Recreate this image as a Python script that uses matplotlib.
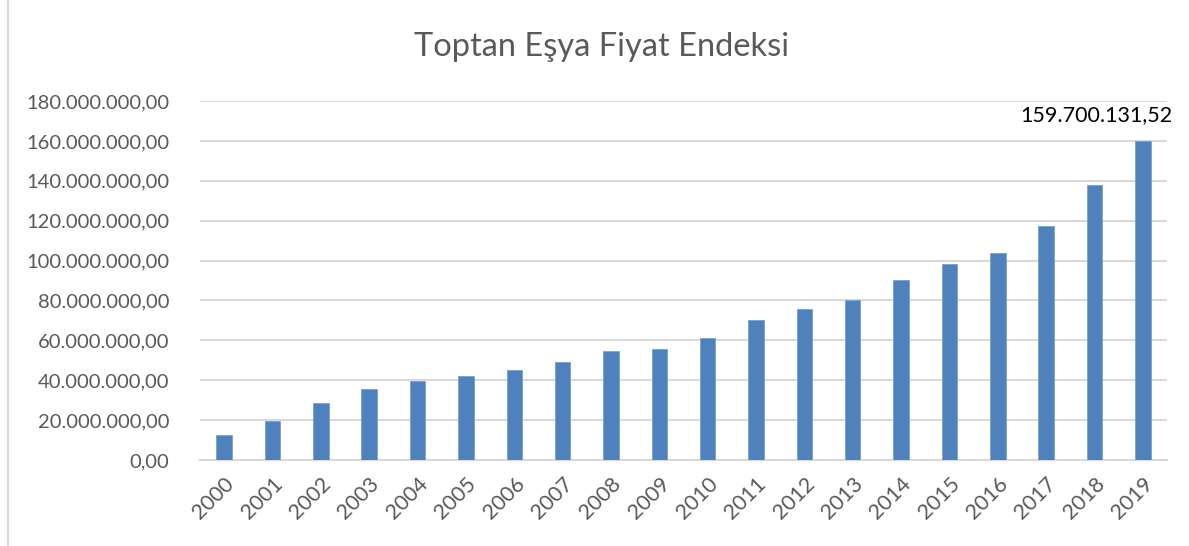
import matplotlib.pyplot as plt
from matplotlib.ticker import FuncFormatter

years = [str(y) for y in range(2000, 2020)]
# values (TL)
values = [
    12.3e6, 19.5e6, 28.8e6, 35.7e6, 39.7e6, 42.0e6, 45.3e6, 49.3e6,
    54.8e6, 55.7e6, 61.2e6, 70.0e6, 75.5e6, 80.2e6, 90.3e6, 98.1e6,
    103.8e6, 117.2e6, 137.9e6, 159700131.52,
]
last_label = "159.700.131,52"
title = "Toptan Eşya Fiyat Endeksi"

plt.rcParams["font.family"] = ["Lato", "DejaVu Sans"]

W, H = 1189, 546
fig = plt.figure(figsize=(W / 100, H / 100), dpi=100)
ax = fig.add_axes([200 / W, 1 - 460 / H, 967 / W, 359 / H])

x = range(len(years))
ax.bar(x, values, width=0.32, color="#4f81bd", edgecolor="#7aa0d0", linewidth=0.6, zorder=3)

ax.set_xlim(-0.5, len(years) - 0.5)
ax.set_ylim(0, 180e6)
ax.set_yticks(range(0, 180000001, 20000000))


def tr_fmt(v, pos):
    s = f"{v:,.2f}"
    return s.replace(",", "X").replace(".", ",").replace("X", ".")


ax.yaxis.set_major_formatter(FuncFormatter(tr_fmt))
ax.grid(axis="y", color="#d9d9d9", linewidth=1.5, zorder=0)
for side in ["top", "right", "left"]:
    ax.spines[side].set_visible(False)
ax.spines["bottom"].set_color("#d9d9d9")
ax.spines["bottom"].set_linewidth(1.5)
ax.tick_params(axis="both", length=0, colors="#595959")
ax.tick_params(axis="y", pad=22, labelsize=14.5)
ax.set_xticks(list(x))
ax.set_xticklabels(years, rotation=45, ha="right", rotation_mode="anchor")
ax.tick_params(axis="x", pad=10, labelsize=15.5)

ax.annotate(last_label, (x[-1], values[-1]), xytext=(30, 16),
            textcoords="offset pixels", ha="right", va="bottom",
            fontsize=15.5, color="#000000")

fig.text(602 / W, 1 - 47 / H, title, ha="center", va="center",
         fontsize=23.5, color="#595959")

# chart frame edge on the left
fig.add_artist(plt.Line2D([8 / W, 8 / W], [0, 1], color="#d9d9d9", linewidth=1.5))

fig.savefig("out.png", dpi=100)
